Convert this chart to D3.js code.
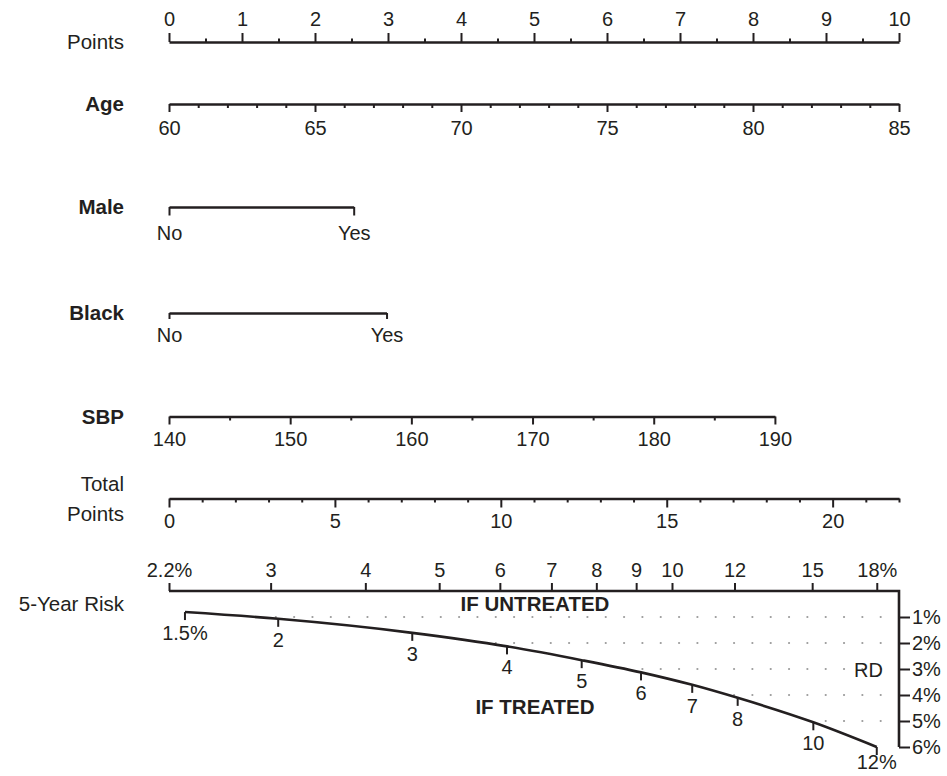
<!DOCTYPE html>
<html><head><meta charset="utf-8">
<script src="https://cdn.jsdelivr.net/npm/d3@7"></script>
<style>
html,body{margin:0;padding:0;background:#fff;}
svg{display:block;}
</style></head><body>
<svg id="chart" width="947" height="776"></svg>
<script>
// ---------------- data ----------------
const pointsTicks = [0,1,2,3,4,5,6,7,8,9,10];
const pointsMinorTicks = [0.5,1.5,2.5,3.5,4.5,5.5,6.5,7.5,8.5,9.5];

const ageRange = [60, 85];
const ageRangePoints = [0, 10];
const ageTicks = [60,65,70,75,80,85];
const ageMinorTicks = [61,62,63,64,66,67,68,69,71,72,73,74,76,77,78,79,81,82,83,84];

const maleLevels = ["No","Yes"];
const malePoints = [0, 2.53];

const blackLevels = ["No","Yes"];
const blackPoints = [0, 2.98];

const sbpRange = [140, 190];
const sbpRangePoints = [0, 8.3];
const sbpTicks = [140,150,160,170,180,190];
const sbpMinorTicks = [145,155,165,175,185];

const totalRange = [0, 22];
const totalTicks = [0,5,10,15,20];
const totalMinorTicks = [1,2,3,4,6,7,8,9,11,12,13,14,16,17,18,19,21,22];

const riskAnchorTotal = [0, 21.33];      // total points
const riskAnchorValues = [2.2, 18];      // % 5-year risk if untreated
const riskTicks = [2.2,3,4,5,6,7,8,9,10,12,15,18];
const riskTickLabels = ["2.2%","3","4","5","6","7","8","9","10","12","15","18%"];

const treatedRisk = [1.5,2,3,4,5,6,7,8,10,12];
const treatedLabels = ["1.5%","2","3","4","5","6","7","8","10","12%"];
const untreatedAtTreated = [2.31,3.07,4.61,6.13,7.66,9.13,10.61,12.11,15.05,18.0];

const rdRange = [0, 6];
const rdTicks = [1,2,3,4,5,6];
const rdLabels = ["1%","2%","3%","4%","5%","6%"];
const rdGridLines = [1,2,3,4,5];

// ---------------- layout ----------------
const FONT = '"Liberation Sans", Arial, Helvetica, sans-serif';
const ink = "#231f20";
const X0 = 169, X1 = 899;
const svg = d3.select("#chart").attr("font-family", FONT);
svg.append("rect").attr("width", 947).attr("height", 776).attr("fill", "#fff");

const pointsX = d3.scaleLinear([0, 10], [X0, X1]);
const ageX = d3.scaleLinear(ageRange, ageRangePoints.map(pointsX));
const maleX = d3.scaleOrdinal(maleLevels, malePoints.map(pointsX));
const blackX = d3.scaleOrdinal(blackLevels, blackPoints.map(pointsX));
const sbpX = d3.scaleLinear(sbpRange, sbpRangePoints.map(pointsX));
const totalX = d3.scaleLinear(totalRange, [X0, X1]);
const cloglog = p => Math.log(-Math.log(1 - p / 100));
const riskX = d3.scaleLinear(riskAnchorValues.map(cloglog), riskAnchorTotal.map(totalX));
const rdY = d3.scaleLinear(rdRange, [591, 747]);

function style(g, keepDomain) {
  g.attr("font-family", FONT).attr("font-size", null);
  if (keepDomain) g.select(".domain").attr("stroke", ink).attr("stroke-width", 2.6);
  else g.select(".domain").remove();
  g.selectAll(".tick line").attr("stroke", ink).attr("stroke-width", 2);
  g.selectAll(".tick text").attr("fill", ink).style("font-size", "20px");
  return g;
}

function drawAxis(y, axisGen, scale, major, minor, size, minorSize, pad, fmt) {
  if (minor) {
    const gm = svg.append("g").attr("transform", `translate(0,${y})`)
      .call(axisGen(scale).tickValues(minor).tickSize(minorSize).tickSizeOuter(0).tickFormat(""));
    style(gm, false);
  }
  const g = svg.append("g").attr("transform", `translate(0,${y})`)
    .call(axisGen(scale).tickValues(major).tickSize(size).tickSizeOuter(0).tickPadding(pad).tickFormat(fmt));
  style(g, true);
  return g;
}

// Points
drawAxis(42, d3.axisTop, pointsX, pointsTicks, pointsMinorTicks, 9, 3.5, 7, d3.format("d"));
// Age
drawAxis(104, d3.axisBottom, ageX, ageTicks, ageMinorTicks, 8, 4, 9, d3.format("d"));
// Male
drawAxis(207, d3.axisBottom, maleX, maleLevels, null, 8.5, 0, 10, d => d);
// Black
drawAxis(313, d3.axisBottom, blackX, blackLevels, null, 6, 0, 8.5, d => d);
// SBP
drawAxis(416.5, d3.axisBottom, sbpX, sbpTicks, sbpMinorTicks, 8, 4, 7.5, d3.format("d"));
// Total points
drawAxis(498.5, d3.axisBottom, totalX, totalTicks, totalMinorTicks, 9, 4, 6.5, d3.format("d"));

// Risk (untreated) top axis
const riskG = svg.append("g").attr("transform", "translate(0,591)")
  .call(d3.axisTop(riskX).tickValues(riskTicks.map(cloglog)).tickSize(8).tickSizeOuter(0).tickPadding(6)
    .tickFormat((d, i) => riskTickLabels[i]));
style(riskG, false);

// frame: top line + right RD axis
svg.append("path")
  .attr("d", `M${X0},${rdY(0)}H${X1}V${rdY(rdRange[1])}`)
  .attr("fill", "none").attr("stroke", ink).attr("stroke-width", 2.6);

const rdG = svg.append("g").attr("transform", `translate(${X1},0)`)
  .call(d3.axisRight(rdY).tickValues(rdTicks).tickSize(11).tickSizeOuter(0).tickPadding(2)
    .tickFormat((d, i) => rdLabels[i]));
style(rdG, false);

// treated curve
const curvePts = treatedRisk.map((t, i) => ({
  x: riskX(cloglog(untreatedAtTreated[i])),
  y: rdY(untreatedAtTreated[i] - t),
  label: treatedLabels[i]
}));

// dotted RD gridlines (from curve to right edge)
const dotG = svg.append("g");
rdGridLines.forEach(rd => {
  const yy = rdY(rd);
  let xc = curvePts[0].x;
  for (let i = 1; i < curvePts.length; i++) {
    const a = curvePts[i - 1], b = curvePts[i];
    if (a.y <= yy && b.y >= yy) { xc = a.x + (b.x - a.x) * (yy - a.y) / (b.y - a.y); break; }
  }
  const xs = [];
  for (let x = 880.7; x > xc + 5; x -= 18.33) xs.push(x);
  dotG.selectAll(null).data(xs).enter().append("circle")
    .attr("cx", d => d).attr("cy", yy).attr("r", 1.1).attr("fill", "#9a9a9a");
});

svg.append("path").datum(curvePts)
  .attr("d", d3.line().x(d => d.x).y(d => d.y).curve(d3.curveMonotoneX))
  .attr("fill", "none").attr("stroke", ink).attr("stroke-width", 2.6);

const tg = svg.append("g");
tg.selectAll("line").data(curvePts).enter().append("line")
  .attr("x1", d => d.x).attr("x2", d => d.x).attr("y1", d => d.y).attr("y2", d => d.y + 8)
  .attr("stroke", ink).attr("stroke-width", 2);
tg.selectAll("text").data(curvePts).enter().append("text")
  .attr("x", d => d.x).attr("y", d => Math.min(d.y + 28, 769)).attr("text-anchor", "middle")
  .attr("fill", ink).style("font-size", "20px").text(d => d.label);

// annotations
svg.append("text").attr("x", 535).attr("y", 611).attr("text-anchor", "middle")
  .attr("fill", ink).style("font-size", "20.5px").style("font-weight", "bold").text("IF UNTREATED");
svg.append("text").attr("x", 535).attr("y", 714).attr("text-anchor", "middle")
  .attr("fill", ink).style("font-size", "20.5px").style("font-weight", "bold").text("IF TREATED");
svg.append("text").attr("x", 883).attr("y", 677).attr("text-anchor", "end")
  .attr("fill", ink).style("font-size", "20px").text("RD");

// left labels
const leftLabels = [
  { text: "Points", y: 42, bold: false },
  { text: "Age", y: 103.5, bold: true },
  { text: "Male", y: 207, bold: true },
  { text: "Black", y: 313, bold: true },
  { text: "SBP", y: 416.5, bold: true },
  { text: "Total", y: 484, bold: false },
  { text: "Points", y: 514, bold: false },
  { text: "5-Year Risk", y: 604, bold: false }
];
svg.append("g").selectAll("text").data(leftLabels).enter().append("text")
  .attr("x", 124).attr("y", d => d.y).attr("dy", "0.36em").attr("text-anchor", "end")
  .attr("fill", ink).style("font-size", "20.5px")
  .style("font-weight", d => d.bold ? "bold" : "normal")
  .text(d => d.text);
</script>
</body></html>
